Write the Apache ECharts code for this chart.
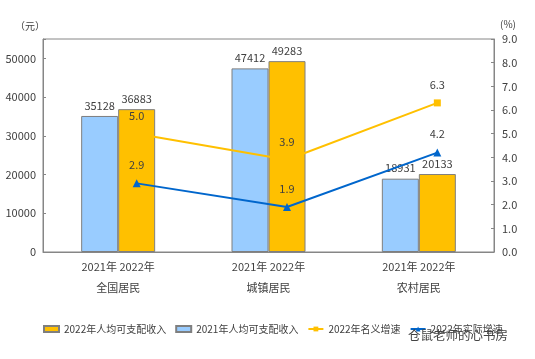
<!DOCTYPE html>
<html><head><meta charset="utf-8">
<script src="https://cdn.jsdelivr.net/npm/echarts@6/dist/echarts.min.js"></script>
<style>html,body{margin:0;padding:0;background:#fff}#c{width:535px;height:359px}</style>
</head><body><div id="c"></div>
<script>
const categories = ['全国居民', '城镇居民', '农村居民'];
const income2021 = [35128, 47412, 18931];
const income2022 = [36883, 49283, 20133];
const nominalGrowth = [5.0, 3.9, 6.3];
const realGrowth = [2.9, 1.9, 4.2];
const leftTicks = {min: 0, max: 55000, interval: 10000};
const rightTicks = {min: 0, max: 9, interval: 1};

const FONT = '"Noto Sans CJK SC", sans-serif';
const TXT = '#404040';
const chart = echarts.init(document.getElementById('c'), null, {renderer: 'canvas'});
chart.setOption({
  animation: false,
  textStyle: {fontFamily: FONT},
  grid: [
    {left: 43, right: 41, top: 39, bottom: 107, show: true, borderColor: '#868686', borderWidth: 1},
    {left: 61.5, right: 22.5, top: 39, bottom: 107, show: false}
  ],
  xAxis: [
    {type: 'category', gridIndex: 0, data: categories,
     axisLine: {lineStyle: {color: '#868686'}}, axisTick: {show: false},
     axisLabel: {color: TXT, fontSize: 11, fontFamily: FONT, lineHeight: 21, margin: 4,
       formatter: v => '2021年 2022年\n' + v}},
    {type: 'category', gridIndex: 1, data: categories, show: false}
  ],
  yAxis: [
    {type: 'value', gridIndex: 0, position: 'left', min: leftTicks.min, max: leftTicks.max, interval: leftTicks.interval,
     name: '（元）', nameLocation: 'end', nameGap: 8, nameTextStyle: {color: TXT, fontSize: 10, align: 'right', padding: [0, -2, 0, 0]},
     splitLine: {show: false},
     axisLine: {show: true, lineStyle: {color: '#868686'}},
     axisTick: {show: true, inside: true, length: 3, lineStyle: {color: '#868686'}},
     axisLabel: {color: TXT, fontSize: 11, margin: 7, formatter: v => v > 50000 ? '' : String(v)}},
    {type: 'value', gridIndex: 0, position: 'right', min: rightTicks.min, max: rightTicks.max, interval: rightTicks.interval,
     name: '(%)', nameLocation: 'end', nameGap: 10, nameTextStyle: {color: TXT, fontSize: 10, align: 'left', padding: [0, 0, 0, 6]},
     splitLine: {show: false},
     axisLine: {show: true, lineStyle: {color: '#868686'}},
     axisTick: {show: true, inside: true, length: 3, lineStyle: {color: '#868686'}},
     axisLabel: {color: TXT, fontSize: 11, margin: 8, formatter: v => v.toFixed(1)}},
    {type: 'value', gridIndex: 1, min: rightTicks.min, max: rightTicks.max, interval: rightTicks.interval, show: false}
  ],
  legend: {
    left: 38, top: 319, itemGap: 9, itemWidth: 15, itemHeight: 6,
    textStyle: {color: TXT, fontSize: 10, fontFamily: FONT},
    data: [
      {name: '2022年人均可支配收入', icon: 'rect'},
      {name: '2021年人均可支配收入', icon: 'rect'},
      '2022年名义增速', '2022年实际增速']
  },
  series: [
    {name: '2021年人均可支配收入', type: 'bar', xAxisIndex: 0, yAxisIndex: 0, data: income2021,
     barWidth: 37, barGap: '0%',
     itemStyle: {color: '#99CCFF', borderColor: '#7F7F7F', borderWidth: 1},
     label: {show: true, position: 'top', distance: 5, color: TXT, fontSize: 11}},
    {name: '2022年人均可支配收入', type: 'bar', xAxisIndex: 0, yAxisIndex: 0, data: income2022,
     barWidth: 37, barGap: '0%',
     itemStyle: {color: '#FFC000', borderColor: '#7F7F7F', borderWidth: 1},
     label: {show: true, position: 'top', distance: 5, color: TXT, fontSize: 11}},
    {name: '2022年名义增速', type: 'line', xAxisIndex: 1, yAxisIndex: 2, data: nominalGrowth,
     symbol: 'rect', symbolSize: 7, lineStyle: {color: '#FFC000', width: 2},
     itemStyle: {color: '#FFC000'},
     label: {show: true, position: 'top', distance: 9, color: TXT, fontSize: 11, formatter: p => p.value.toFixed(1)}},
    {name: '2022年实际增速', type: 'line', xAxisIndex: 1, yAxisIndex: 2, data: realGrowth,
     symbol: 'triangle', symbolSize: 8, lineStyle: {color: '#0066CC', width: 2},
     itemStyle: {color: '#0066CC'},
     label: {show: true, position: 'top', distance: 9, color: TXT, fontSize: 11, formatter: p => p.value.toFixed(1)}}
  ],
  graphic: [
    {type: 'text', left: 408, top: 329, z: 100,
     style: {text: '仓鼠老师的心书房', fill: '#444', font: '12.5px "Noto Sans CJK SC", sans-serif'}}
  ]
});
</script></body></html>
